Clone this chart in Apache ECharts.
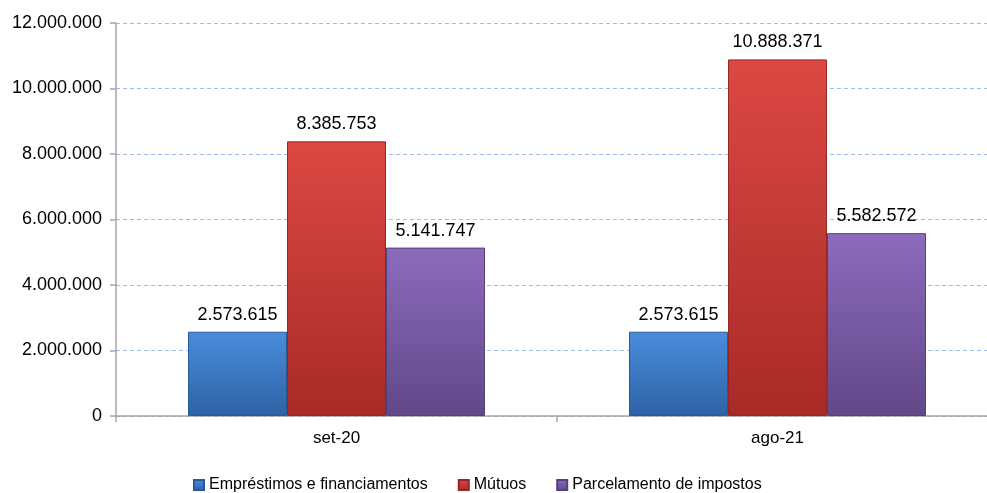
<!DOCTYPE html>
<html><head><meta charset="utf-8">
<script src="https://cdn.jsdelivr.net/npm/echarts@6/dist/echarts.min.js"></script>
<style>html,body{margin:0;padding:0;background:#fff;overflow:hidden}#c{width:1000px;height:493px}</style>
</head><body><div id="c"></div>
<script>
const categories = ['set-20', 'ago-21'];
const seriesNames = ['Empréstimos e financiamentos', 'Mútuos', 'Parcelamento de impostos'];
const emprestimos = [2573615, 2573615];
const mutuos = [8385753, 10888371];
const parcelamento = [5141747, 5582572];
const yTicks = [0, 2000000, 4000000, 6000000, 8000000, 10000000, 12000000];

function fmt(v){ return String(Math.round(v)).replace(/\B(?=(\d{3})+(?!\d))/g, '.'); }
function grad(top, bottom){
  return new echarts.graphic.LinearGradient(0,0,0,1,[{offset:0,color:top},{offset:1,color:bottom}]);
}
const FONT = 'Liberation Sans';
const styles = [
  {c: grad('#4a8ddb','#2d62a6'), b:'#2a5a96'},
  {c: grad('#dc4843','#a82a27'), b:'#962622'},
  {c: grad('#8c6bbd','#614888'), b:'#56407a'}
];
const dataSets = [emprestimos, mutuos, parcelamento];
const chart = echarts.init(document.getElementById('c'), null, {renderer:'canvas'});
chart.setOption({
  animation: false,
  backgroundColor: '#fff',
  grid: {left: 116, top: 23, right: 2, height: 393},
  legend: {
    top: 472, left: 188, itemWidth: 10, itemHeight: 10, itemGap: 30,
    icon: 'rect',
    textStyle: {fontFamily: FONT, fontSize: 16, color: '#000'},
    data: seriesNames
  },
  xAxis: {
    type: 'category', data: categories,
    axisLine: {lineStyle: {color: '#a6a6a6', width: 1.5}},
    axisTick: {show: true, length: 6, lineStyle: {color: '#a6a6a6', width: 1.5}},
    axisLabel: {fontFamily: FONT, fontSize: 17, color: '#000', margin: 14}
  },
  yAxis: {
    type: 'value', min: yTicks[0], max: yTicks[yTicks.length-1], interval: yTicks[1]-yTicks[0],
    axisLine: {show: true, lineStyle: {color: '#a6a6a6', width: 1.5}},
    axisTick: {show: true, length: 6, lineStyle: {color: '#a6a6a6', width: 1.5}},
    axisLabel: {fontFamily: FONT, fontSize: 18, color: '#000', margin: 14, formatter: fmt},
    splitLine: {show: true, lineStyle: {color: '#9dbde6', type: [4, 3], width: 1}}
  },
  series: seriesNames.map((n, i) => ({
    name: n, type: 'bar', data: dataSets[i], barWidth: 99, barGap: '0%',
    itemStyle: {color: styles[i].c, borderColor: styles[i].b, borderWidth: 1},
    label: {show: true, position: 'top', distance: 8, fontFamily: FONT, fontSize: 18, color: '#000',
      formatter: p => fmt(p.value)}
  }))
});
</script></body></html>
